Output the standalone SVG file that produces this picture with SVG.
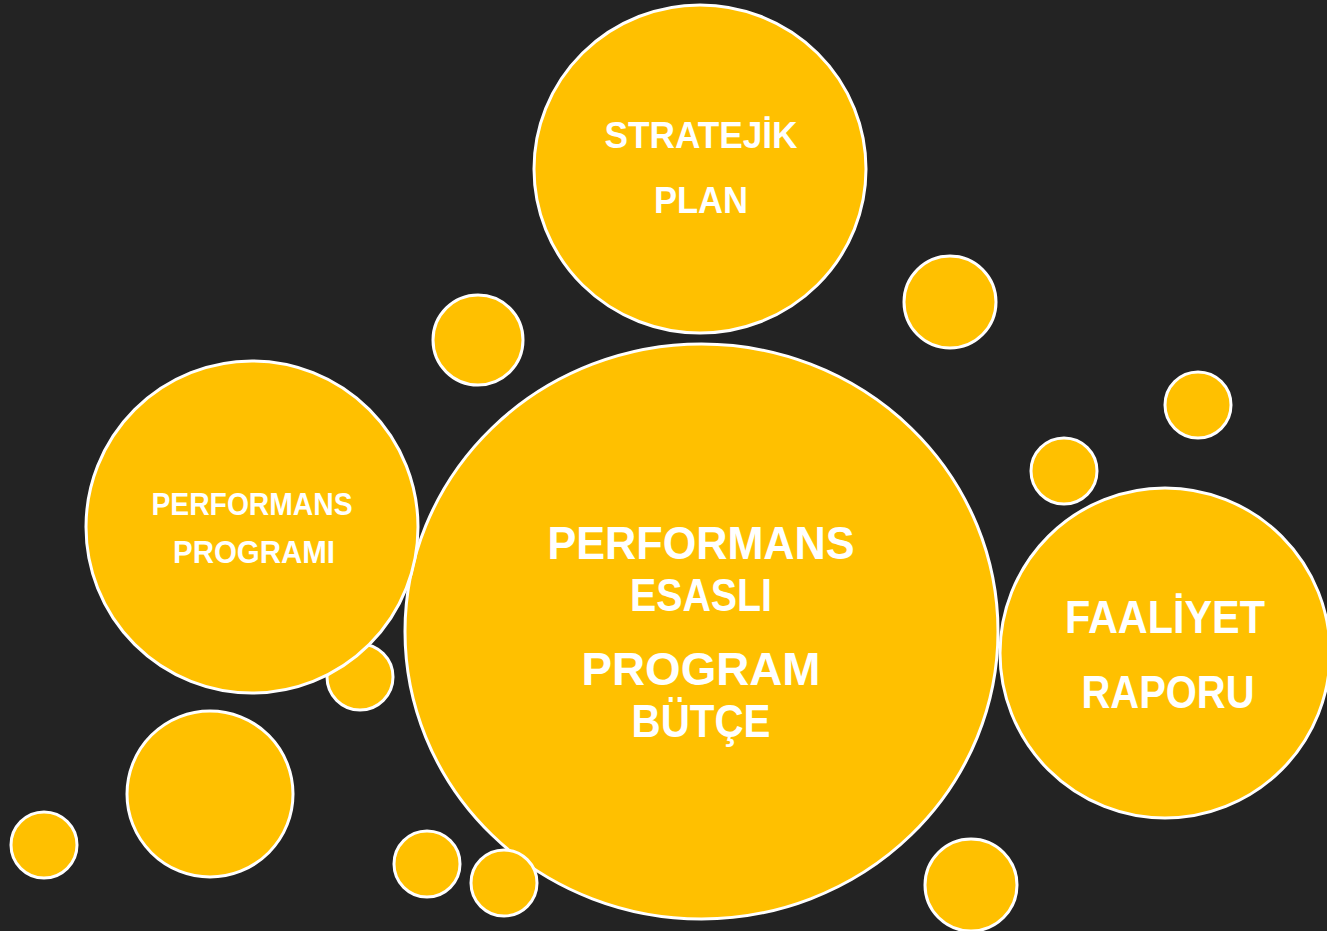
<svg xmlns="http://www.w3.org/2000/svg" width="1327" height="931" viewBox="0 0 1327 931">
<style>
.c{fill:#FFC000;stroke:#FFFFFF;stroke-width:3}
.t{fill:#FFFFFF;font-family:"Liberation Sans",Arial,sans-serif;font-weight:bold;text-anchor:middle}
</style>
<rect width="1327" height="931" fill="#232323"/>
<g id="bubbles">
<circle class="c" cx="478" cy="340" r="45"/>
<circle class="c" cx="950" cy="302" r="46"/>
<circle class="c" cx="1198" cy="405" r="33"/>
<circle class="c" cx="1064" cy="471" r="33"/>
<circle class="c" cx="360" cy="677" r="33"/>
<circle class="c" cx="210" cy="794" r="83"/>
<circle class="c" cx="44" cy="845" r="33"/>
<circle class="c" cx="427" cy="864" r="33"/>
<circle class="c" cx="971" cy="885" r="46"/>
</g>
<g id="stratejik-plan">
<ellipse class="c" cx="700" cy="169" rx="166" ry="164"/>
<text class="t" font-size="36" x="701" y="148" textLength="193" lengthAdjust="spacingAndGlyphs">STRATEJİK</text>
<text class="t" font-size="36" x="701" y="213" textLength="94" lengthAdjust="spacingAndGlyphs">PLAN</text>
</g>
<g id="program-butce">
<ellipse class="c" cx="701.5" cy="631.5" rx="296.5" ry="287.5"/>
<text class="t" font-size="47" x="701" y="559" textLength="307" lengthAdjust="spacingAndGlyphs">PERFORMANS</text>
<text class="t" font-size="47" x="701" y="611" textLength="142" lengthAdjust="spacingAndGlyphs">ESASLI</text>
<text class="t" font-size="47" x="701" y="685" textLength="239" lengthAdjust="spacingAndGlyphs">PROGRAM</text>
<text class="t" font-size="47" x="701" y="737" textLength="139" lengthAdjust="spacingAndGlyphs">BÜTÇE</text>
</g>
<g id="performans-programi">
<circle class="c" cx="252" cy="527" r="166"/>
<text class="t" font-size="31" x="252" y="515" textLength="201" lengthAdjust="spacingAndGlyphs">PERFORMANS</text>
<text class="t" font-size="31" x="254" y="563" textLength="162" lengthAdjust="spacingAndGlyphs">PROGRAMI</text>
</g>
<g id="faaliyet-raporu">
<circle class="c" cx="1165" cy="653" r="165"/>
<text class="t" font-size="46" x="1165" y="633" textLength="200" lengthAdjust="spacingAndGlyphs">FAALİYET</text>
<text class="t" font-size="46" x="1168" y="708" textLength="173" lengthAdjust="spacingAndGlyphs">RAPORU</text>
</g>
<g id="front-bubble">
<circle class="c" cx="504" cy="883" r="33"/>
</g>
<g id="connectors"/>
</svg>
